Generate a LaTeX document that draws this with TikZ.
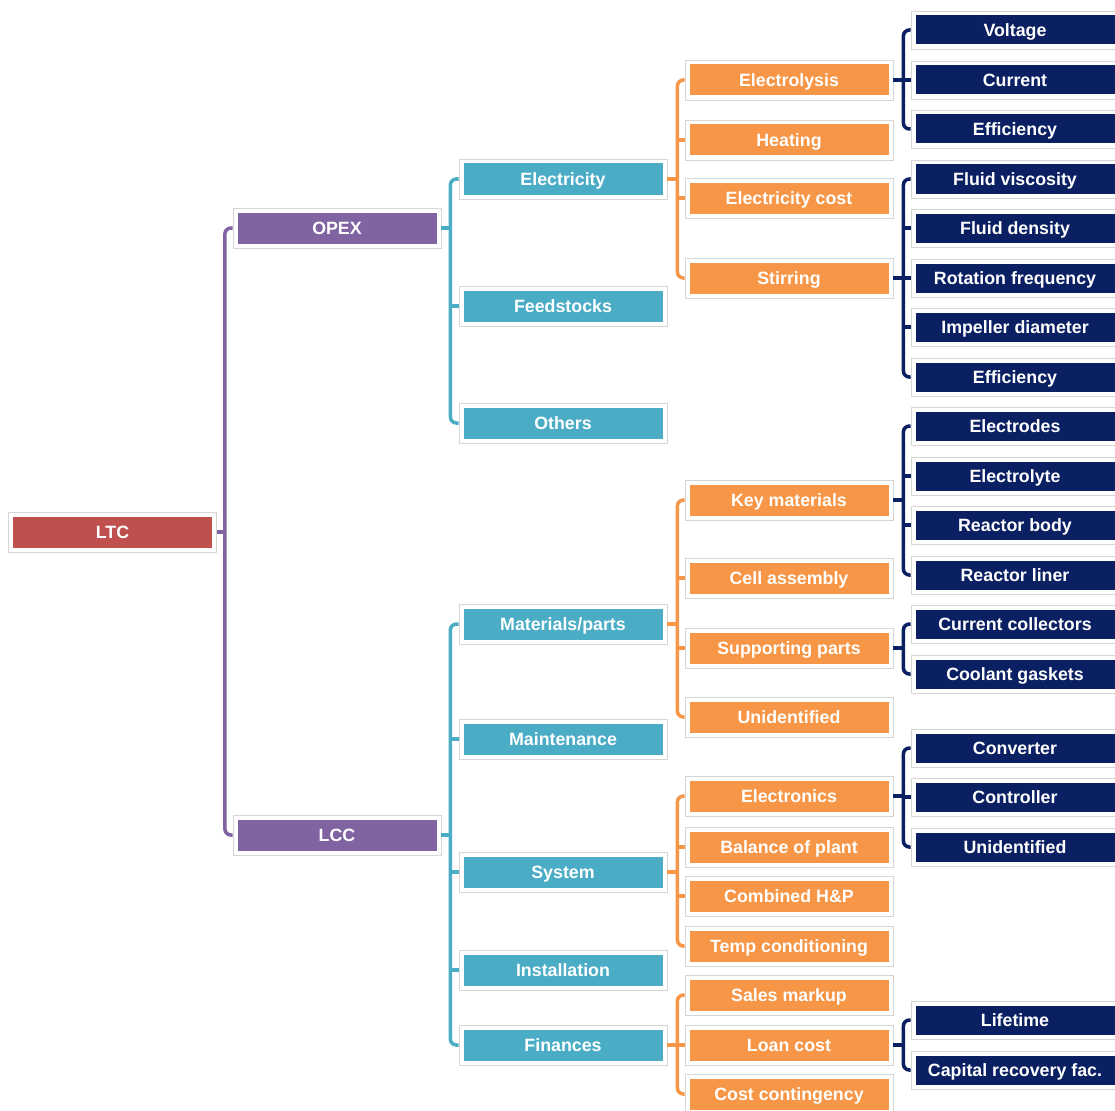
\documentclass[tikz,border=0pt]{standalone}
\usepackage{fontspec}
\setmainfont{Liberation Sans}
\definecolor{cred}{HTML}{C0504D}
\definecolor{cpur}{HTML}{8064A2}
\definecolor{cteal}{HTML}{4BACC6}
\definecolor{corg}{HTML}{F79646}
\definecolor{cnavy}{HTML}{0A2062}
\tikzset{
  box/.style={minimum width=208pt, minimum height=40pt, inner sep=0pt,
    text height=13.6pt, text depth=0.8pt,
    fill=white, draw=black!16, line width=0.8pt, text=white,
    font=\bfseries\fontsize{17.8}{20}\selectfont,
    path picture={\fill[#1] ([shift={(4.5pt,4.5pt)}]path picture bounding box.south west)
      rectangle ([shift={(-4.5pt,-4.5pt)}]path picture bounding box.north east);}},
  nbox/.style={box=cnavy, minimum height=38pt},
  conn/.style={draw=#1, line width=3.5pt},
}
\newcommand\treegroup[5]{% parent, color, first, last, stub
  \draw[conn=#2] (#1.east) -- ++(#5pt,0) coordinate (j#1);
  \draw[conn=#2, rounded corners=6pt] (#3.west) -| (j#1) |- (#4.west);
}
\newcommand\midtick[3]{% parent, color, child
  \draw[conn=#2] (#3.west -| j#1) -- (#3.west);
}
\begin{document}
\begin{tikzpicture}[x=1pt,y=-1pt]
\useasboundingbox (0,0) rectangle (1115,1110);
% column 1
\node[box=cred] (LTC) at (112.5,532) {LTC};
% column 2
\node[box=cpur] (OPEX) at (337,228) {OPEX};
\node[box=cpur] (LCC) at (337,835) {LCC};
% column 3
\node[box=cteal] (Electricity) at (563,179) {Electricity};
\node[box=cteal] (Feedstocks) at (563,306) {Feedstocks};
\node[box=cteal] (Others) at (563,423) {Others};
\node[box=cteal] (Materials) at (563,624) {Materials/parts};
\node[box=cteal] (Maintenance) at (563,739) {Maintenance};
\node[box=cteal] (System) at (563,872) {System};
\node[box=cteal] (Installation) at (563,970) {Installation};
\node[box=cteal] (Finances) at (563,1045) {Finances};
% column 4
\node[box=corg] (Electrolysis) at (789,80) {Electrolysis};
\node[box=corg] (Heating) at (789,140) {Heating};
\node[box=corg] (Elcost) at (789,198) {Electricity cost};
\node[box=corg] (Stirring) at (789,278) {Stirring};
\node[box=corg] (Keymat) at (789,500) {Key materials};
\node[box=corg] (Cellasm) at (789,578) {Cell assembly};
\node[box=corg] (Support) at (789,648) {Supporting parts};
\node[box=corg] (UnidA) at (789,717) {Unidentified};
\node[box=corg] (Electronics) at (789,796) {Electronics};
\node[box=corg] (BoP) at (789,847) {Balance of plant};
\node[box=corg] (CHP) at (789,896) {Combined H\&P};
\node[box=corg] (Temp) at (789,946) {Temp conditioning};
\node[box=corg] (Sales) at (789,995) {Sales markup};
\node[box=corg] (Loan) at (789,1045) {Loan cost};
\node[box=corg] (Contingency) at (789,1094) {Cost contingency};
% column 5
\node[nbox] (Voltage) at (1015,30) {Voltage};
\node[nbox] (Current) at (1015,80) {Current};
\node[nbox] (EffA) at (1015,129) {Efficiency};
\node[nbox] (Visc) at (1015,179) {Fluid viscosity};
\node[nbox] (Dens) at (1015,228) {Fluid density};
\node[nbox] (Rot) at (1015,278) {Rotation frequency};
\node[nbox] (Imp) at (1015,327) {Impeller diameter};
\node[nbox] (EffB) at (1015,377) {Efficiency};
\node[nbox] (Electrodes) at (1015,426) {Electrodes};
\node[nbox] (Electrolyte) at (1015,476) {Electrolyte};
\node[nbox] (Body) at (1015,525) {Reactor body};
\node[nbox] (Liner) at (1015,575) {Reactor liner};
\node[nbox] (Collectors) at (1015,624) {Current collectors};
\node[nbox] (Gaskets) at (1015,674) {Coolant gaskets};
\node[nbox] (Converter) at (1015,748) {Converter};
\node[nbox] (Controller) at (1015,797) {Controller};
\node[nbox] (UnidB) at (1015,847) {Unidentified};
\node[nbox] (Lifetime) at (1015,1020) {Lifetime};
\node[nbox] (Crf) at (1015,1070) {Capital recovery fac.};
% connectors
\treegroup{LTC}{cpur}{OPEX}{LCC}{8}
\treegroup{OPEX}{cteal}{Electricity}{Others}{9}
\midtick{OPEX}{cteal}{Feedstocks}
\treegroup{LCC}{cteal}{Materials}{Finances}{9}
\midtick{LCC}{cteal}{Maintenance}
\midtick{LCC}{cteal}{System}
\midtick{LCC}{cteal}{Installation}
\treegroup{Electricity}{corg}{Electrolysis}{Stirring}{10}
\midtick{Electricity}{corg}{Heating}
\midtick{Electricity}{corg}{Elcost}
\treegroup{Materials}{corg}{Keymat}{UnidA}{10}
\midtick{Materials}{corg}{Cellasm}
\midtick{Materials}{corg}{Support}
\treegroup{System}{corg}{Electronics}{Temp}{10}
\midtick{System}{corg}{BoP}
\midtick{System}{corg}{CHP}
\treegroup{Finances}{corg}{Sales}{Contingency}{10}
\midtick{Finances}{corg}{Loan}
\treegroup{Electrolysis}{cnavy}{Voltage}{EffA}{10}
\midtick{Electrolysis}{cnavy}{Current}
\treegroup{Stirring}{cnavy}{Visc}{EffB}{10}
\midtick{Stirring}{cnavy}{Dens}
\midtick{Stirring}{cnavy}{Rot}
\midtick{Stirring}{cnavy}{Imp}
\treegroup{Keymat}{cnavy}{Electrodes}{Liner}{10}
\midtick{Keymat}{cnavy}{Electrolyte}
\midtick{Keymat}{cnavy}{Body}
\treegroup{Support}{cnavy}{Collectors}{Gaskets}{10}
\treegroup{Electronics}{cnavy}{Converter}{UnidB}{10}
\midtick{Electronics}{cnavy}{Controller}
\treegroup{Loan}{cnavy}{Lifetime}{Crf}{10}
\end{tikzpicture}
\end{document}
